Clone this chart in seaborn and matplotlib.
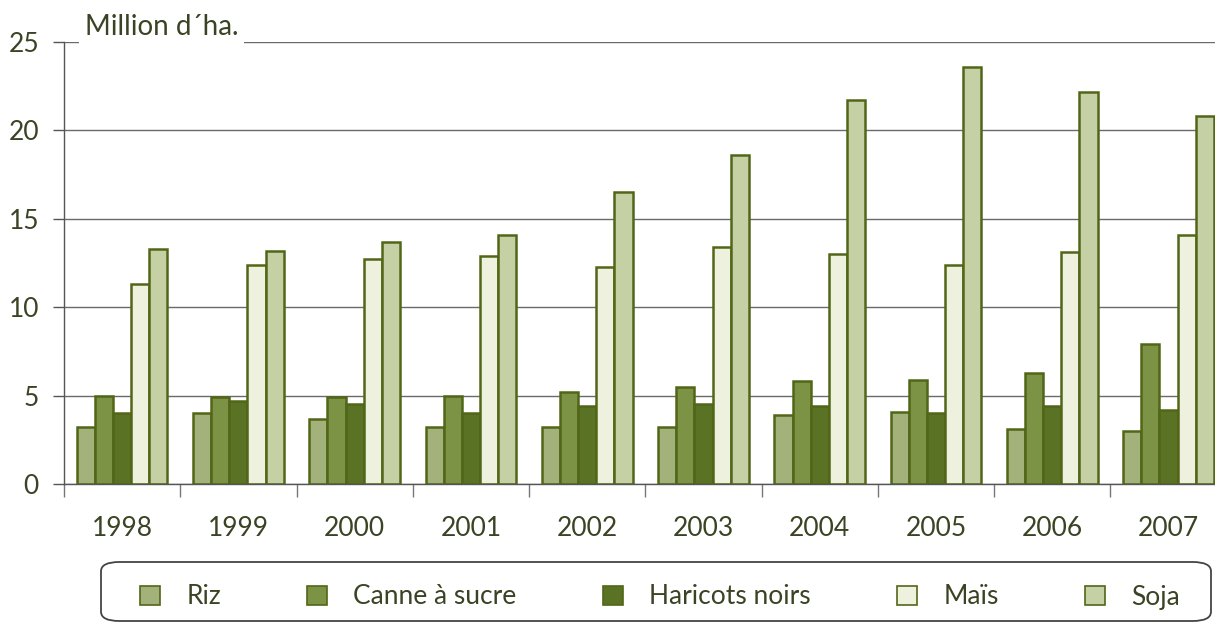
import pandas as pd
import seaborn as sns
import matplotlib.pyplot as plt
from matplotlib.ticker import FixedLocator
from matplotlib.patches import Patch, FancyBboxPatch

# ---------------- Data ----------------
years = ["1998", "1999", "2000", "2001", "2002", "2003", "2004", "2005", "2006", "2007"]
crops = ["Riz", "Canne à sucre", "Haricots noirs", "Maïs", "Soja"]

riz = [3.2, 4.0, 3.7, 3.2, 3.2, 3.2, 3.9, 4.1, 3.1, 3.0]
canne = [5.0, 4.9, 4.9, 5.0, 5.2, 5.5, 5.8, 5.9, 6.3, 7.9]
haricots = [4.0, 4.7, 4.5, 4.0, 4.4, 4.5, 4.4, 4.0, 4.4, 4.2]
mais = [11.3, 12.4, 12.7, 12.9, 12.3, 13.4, 13.0, 12.4, 13.1, 14.1]
soja = [13.3, 13.2, 13.7, 14.1, 16.5, 18.6, 21.7, 23.6, 22.2, 20.8]

colors = ["#a2b27a", "#7c9245", "#5a7223", "#eef1dd", "#c5d1a4"]
edge = "#526618"
text_col = "#3a4424"

rows = []
for name, vals in zip(crops, [riz, canne, haricots, mais, soja]):
    for y, v in zip(years, vals):
        rows.append({"Année": y, "Culture": name, "Surface": v})
df = pd.DataFrame(rows)

# ---------------- Plot ----------------
sns.set_style("white")
plt.rcParams["font.family"] = ["Lato", "DejaVu Sans"]

fig = plt.figure(figsize=(12.15, 6.23), dpi=100)
ax = fig.add_axes([64 / 1215, 1 - 484 / 623, 1 - 64 / 1215, (484 - 42) / 623])

sns.barplot(data=df, x="Année", y="Surface", hue="Culture", hue_order=crops,
            palette=colors, edgecolor=edge, linewidth=1.8, width=0.78,
            saturation=1, ax=ax, legend=False)

ax.set_ylim(0, 25)
ax.set_xlim(-0.5, 9.4)
ax.set_yticks([0, 5, 10, 15, 20, 25])
ax.yaxis.grid(True, color="#6a6a6a", linewidth=1)
ax.set_axisbelow(True)
ax.set_xlabel("")
ax.set_ylabel("")

for s in ["top", "right"]:
    ax.spines[s].set_visible(False)
for s in ["left", "bottom"]:
    ax.spines[s].set_color("#555555")
    ax.spines[s].set_linewidth(1)

ax.tick_params(axis="y", length=8, width=1, color="#555555", pad=10,
               labelsize=19, labelcolor=text_col, left=True)
ax.tick_params(axis="x", which="major", length=0, pad=23,
               labelsize=19, labelcolor=text_col)
ax.xaxis.set_minor_locator(FixedLocator([i - 0.5 for i in range(11)]))
ax.tick_params(axis="x", which="minor", length=9, width=1, color="#777777",
               bottom=True)

ax.text(0.018, 25.1, "Million d\u00b4ha.", transform=ax.get_yaxis_transform(),
        fontsize=20, color=text_col, va="bottom", ha="left",
        bbox=dict(facecolor="white", edgecolor="none", pad=4))

# legend box drawn separately so the entries can sit inset
box = FancyBboxPatch((101 / 1215, 2 / 623), 1110 / 1215, 59 / 623,
                     boxstyle="round,pad=0,rounding_size=0.015",
                     transform=fig.transFigure, facecolor="white",
                     edgecolor="#444444", linewidth=1.3)
fig.patches.append(box)

handles = [Patch(facecolor=c, edgecolor=edge, linewidth=1.2) for c in colors]
leg = fig.legend(handles, crops, loc="center left", ncol=5, mode="expand",
                 bbox_to_anchor=(140 / 1215, 6 / 623, 1040 / 1215, 40 / 623),
                 frameon=False, fontsize=19,
                 handlelength=0.75, handleheight=0.75, handletextpad=1.0,
                 borderaxespad=0, borderpad=0)
for t in leg.get_texts():
    t.set_color(text_col)

fig.savefig("out.png", dpi=100)
